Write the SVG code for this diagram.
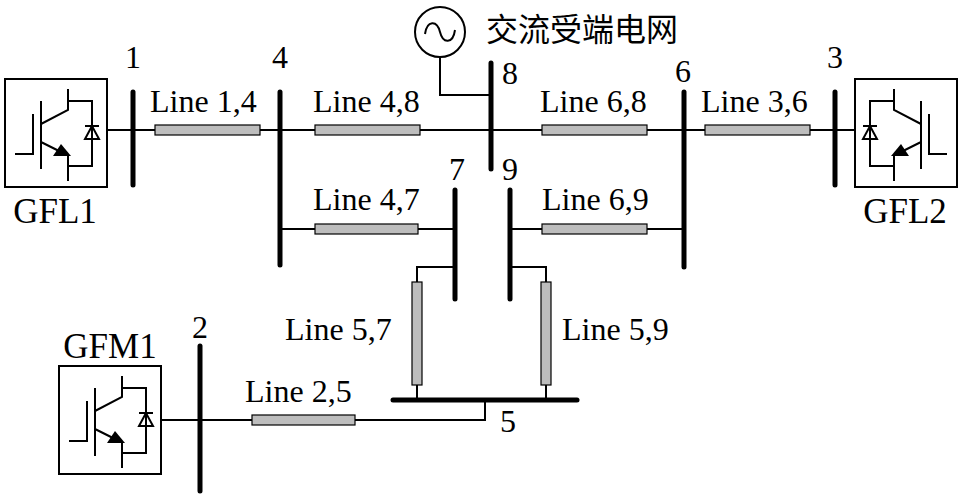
<svg xmlns="http://www.w3.org/2000/svg" width="962" height="495" viewBox="0 0 962 495">
<style>
text{font-family:"Liberation Serif","Noto Sans CJK SC",serif;font-size:32px;fill:#000}
.g{font-size:35px}
.w{stroke:#000;stroke-width:2;fill:none}
.bus{stroke:#000;stroke-width:5;stroke-linecap:round}
.r{fill:#bdbdbd;stroke:#000;stroke-width:1.2}
.box{fill:#fff;stroke:#000;stroke-width:2}
</style>
<defs>
<g id="conv">
<rect class="box" x="0" y="0" width="102" height="108"/>
<path class="w" d="M10 75H28V35M36 22V90M36 45L63 31V10M63 22H87V87H63M36 63L56 73M63 76V102"/>
<path d="M66 77L48 77L56 65Z" fill="#000"/>
<path class="w" d="M80 47H94M87 47L80 60H94Z"/>
</g>
</defs>
<g id="connectors">
<path class="w" d="M107 130H855M280 229H455M510 229H684M455 267H417V400M510 267H546V400M162 420H485V400M440 57V95H491"/>
</g>
<g id="resistors">
<rect class="r" x="155" y="125" width="105" height="10"/>
<rect class="r" x="315" y="125" width="105" height="10"/>
<rect class="r" x="542" y="125" width="105" height="10"/>
<rect class="r" x="705" y="125" width="105" height="10"/>
<rect class="r" x="315" y="224" width="103" height="10"/>
<rect class="r" x="542" y="224" width="105" height="10"/>
<rect class="r" x="252" y="415" width="103" height="10"/>
<rect class="r" x="412" y="282" width="10" height="103"/>
<rect class="r" x="541" y="282" width="10" height="103"/>
</g>
<g id="buses">
<line class="bus" x1="133" y1="92" x2="133" y2="185"/>
<line class="bus" x1="280" y1="92" x2="280" y2="265"/>
<line class="bus" x1="491" y1="63" x2="491" y2="169"/>
<line class="bus" x1="684" y1="92" x2="684" y2="267"/>
<line class="bus" x1="835" y1="92" x2="835" y2="185"/>
<line class="bus" x1="455" y1="190" x2="455" y2="299"/>
<line class="bus" x1="510" y1="190" x2="510" y2="299"/>
<line class="bus" x1="393" y1="400" x2="577" y2="400"/>
<line class="bus" x1="200" y1="346" x2="200" y2="491"/>
</g>
<g id="GFL1"><use href="#conv" x="5" y="79"/><text class="g" x="55" y="223" text-anchor="middle">GFL1</text></g>
<g id="GFL2"><use href="#conv" transform="translate(957 79) scale(-1 1)"/><text class="g" x="905" y="223" text-anchor="middle">GFL2</text></g>
<g id="GFM1"><use href="#conv" x="59" y="366"/><text class="g" x="110" y="358" text-anchor="middle">GFM1</text></g>
<g id="source">
<circle cx="440" cy="32" r="25" class="w"/>
<path class="w" d="M425 34C427 20 437 20 440 32C443 44 453 44 455 30"/>
<text x="486" y="41" font-size="35">交流受端电网</text>
</g>
<g id="labels">
<text x="133" y="68" text-anchor="middle">1</text>
<text x="280" y="68" text-anchor="middle">4</text>
<text x="510" y="84" text-anchor="middle">8</text>
<text x="683" y="82" text-anchor="middle">6</text>
<text x="835" y="68" text-anchor="middle">3</text>
<text x="457" y="180" text-anchor="middle">7</text>
<text x="510" y="180" text-anchor="middle">9</text>
<text x="200" y="338" text-anchor="middle">2</text>
<text x="508" y="432" text-anchor="middle">5</text>
<text x="150" y="112">Line 1,4</text>
<text x="313" y="112">Line 4,8</text>
<text x="540" y="112">Line 6,8</text>
<text x="701" y="112">Line 3,6</text>
<text x="313" y="210">Line 4,7</text>
<text x="542" y="210">Line 6,9</text>
<text x="285" y="340">Line 5,7</text>
<text x="562" y="340">Line 5,9</text>
<text x="245" y="402">Line 2,5</text>
</g>
</svg>
